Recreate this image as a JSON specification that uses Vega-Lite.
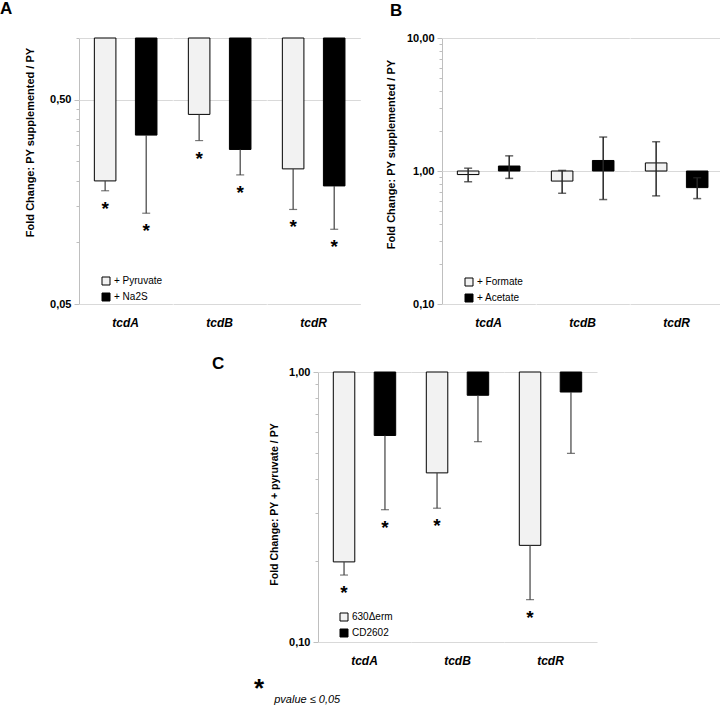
{
  "$schema": "https://vega.github.io/schema/vega-lite/v6.json",
  "padding": {"left": 0, "top": 0, "right": 0, "bottom": 0},
  "background": "white",
  "config": {
    "font": "Liberation Sans",
    "view": {"stroke": null},
    "axis": {"labelColor": "black", "titleColor": "black", "labelFontWeight": "bold", "labelFontSize": 11, "titleFontWeight": "bold", "titleFontSize": 11, "labelOverlap": false},
    "header": {"labelFont": "Liberation Sans", "labelFontSize": 12, "labelFontWeight": "bold", "labelFontStyle": "italic", "labelColor": "black", "labelOrient": "bottom", "labelPadding": 14},
    "legend": {"orient": "none", "title": null, "symbolType": "square", "symbolSize": 64, "symbolStrokeColor": "black", "symbolStrokeWidth": 1, "labelFontSize": 10, "labelOffset": 3, "rowPadding": 4, "padding": 0, "labelColor": "black"}
  },
  "title": {"text": "*", "subtitle": "\u2800\u00a0\u00a0\u00a0\u00a0pvalue ≤ 0,05", "orient": "bottom", "anchor": "start", "frame": "bounds", "dx": 254, "offset": 9, "fontSize": 26, "fontWeight": "bold", "subtitleFontSize": 11, "subtitleFontStyle": "italic", "subtitleColor": "black", "subtitlePadding": -8, "color": "black"},
  "resolve": {"scale": {"fill": "independent"}, "legend": {"fill": "independent"}},
  "spacing": 26,
  "vconcat": [
    {
      "hconcat": [
        {
          "title": {"text": "A", "anchor": "start", "frame": "group", "dx": -79, "offset": 1, "fontSize": 17, "fontWeight": "bold", "baseline": "alphabetic", "color": "black"},
          "data": {"values": [
            {"gene": "tcdA", "cond": "+ Pyruvate", "value": 0.200, "lo": 0.179, "sig": "*"},
            {"gene": "tcdA", "cond": "+ Na2S", "value": 0.335, "lo": 0.139, "sig": "*"},
            {"gene": "tcdB", "cond": "+ Pyruvate", "value": 0.423, "lo": 0.315, "sig": "*"},
            {"gene": "tcdB", "cond": "+ Na2S", "value": 0.285, "lo": 0.214, "sig": "*"},
            {"gene": "tcdR", "cond": "+ Pyruvate", "value": 0.229, "lo": 0.145, "sig": "*"},
            {"gene": "tcdR", "cond": "+ Na2S", "value": 0.189, "lo": 0.116, "sig": "*"}
          ]},
          "spacing": 0,
          "facet": {"column": {"field": "gene", "type": "nominal", "sort": ["tcdA", "tcdB", "tcdR"], "title": null}},
          "spec": {
            "width": 93.33, "height": 266,
            "encoding": {
              "x": {"field": "cond", "type": "nominal", "sort": ["+ Pyruvate", "+ Na2S"], "scale": {"type": "band", "paddingInner": 0.475, "paddingOuter": 0.374},
                "axis": {"title": null, "labels": false, "ticks": false, "domainColor": "#d9d9d9"}}
            },
            "layer": [
              {
                "mark": {"type": "bar", "stroke": "black", "strokeWidth": 1},
                "encoding": {
                  "y": {"field": "value", "type": "quantitative", "scale": {"type": "log", "domain": [0.05, 1], "nice": false},
                    "axis": {"title": "Fold Change: PY supplemented / PY", "titleX": -44, "titleY": 104,
                      "values": [0.05, 0.1, 0.15, 0.2, 0.25, 0.3, 0.35, 0.4, 0.45, 0.5, 1],
                      "labelExpr": "datum.value == 0.05 || datum.value == 0.5 ? replace(format(datum.value, '.2f'), '.', ',') : ''",
                      "grid": true, "gridColor": "#d9d9d9",
                      "gridOpacity": {"condition": {"test": "datum.value == 0.5 || datum.value == 1", "value": 1}, "value": 0},
                      "tickSize": {"condition": {"test": "datum.value == 0.05 || datum.value == 0.5", "value": 5}, "value": 3},
                      "domainColor": "#bfbfbf", "tickColor": "#bfbfbf", "labelPadding": 3}},
                  "y2": {"datum": 1},
                  "fill": {"field": "cond", "type": "nominal", "scale": {"domain": ["+ Pyruvate", "+ Na2S"], "range": ["#f2f2f2", "#000000"]},
                    "legend": {"legendX": 22, "legendY": 238}}
                }
              },
              {
                "mark": {"type": "rule", "color": "#404040", "strokeWidth": 1.2},
                "encoding": {"y": {"field": "value", "type": "quantitative"}, "y2": {"field": "lo"}}
              },
              {
                "mark": {"type": "tick", "color": "#404040", "size": 8, "thickness": 1.2},
                "encoding": {"y": {"field": "lo", "type": "quantitative"}}
              },
              {
                "mark": {"type": "text", "fontSize": 19, "fontWeight": "bold", "baseline": "alphabetic", "dy": 24, "color": "black"},
                "encoding": {"y": {"field": "lo", "type": "quantitative"}, "text": {"field": "sig"}}
              }
            ]
          }
        },
        {
          "title": {"text": "B", "anchor": "start", "frame": "group", "dx": -52, "offset": -1, "fontSize": 17, "fontWeight": "bold", "baseline": "alphabetic", "color": "black"},
          "data": {"values": [
            {"gene": "tcdA", "cond": "+ Formate", "value": 0.94, "lo": 0.83, "hi": 1.05},
            {"gene": "tcdA", "cond": "+ Acetate", "value": 1.09, "lo": 0.88, "hi": 1.30},
            {"gene": "tcdB", "cond": "+ Formate", "value": 0.84, "lo": 0.68, "hi": 1.01},
            {"gene": "tcdB", "cond": "+ Acetate", "value": 1.20, "lo": 0.61, "hi": 1.80},
            {"gene": "tcdR", "cond": "+ Formate", "value": 1.15, "lo": 0.65, "hi": 1.66},
            {"gene": "tcdR", "cond": "+ Acetate", "value": 0.75, "lo": 0.62, "hi": 0.89}
          ]},
          "spacing": 0,
          "facet": {"column": {"field": "gene", "type": "nominal", "sort": ["tcdA", "tcdB", "tcdR"], "title": null}},
          "spec": {
            "width": 93.33, "height": 266,
            "encoding": {
              "x": {"field": "cond", "type": "nominal", "sort": ["+ Formate", "+ Acetate"], "scale": {"type": "band", "paddingInner": 0.475, "paddingOuter": 0.374},
                "axis": {"title": null, "labels": false, "ticks": false, "domainColor": "#d9d9d9"}}
            },
            "layer": [
              {
                "mark": {"type": "bar", "stroke": "black", "strokeWidth": 1},
                "encoding": {
                  "y": {"field": "value", "type": "quantitative", "scale": {"type": "log", "domain": [0.1, 10], "nice": false},
                    "axis": {"title": "Fold Change: PY supplemented / PY", "titleX": -46, "titleY": 116,
                      "values": [0.1, 0.2, 0.3, 0.4, 0.5, 0.6, 0.7, 0.8, 0.9, 1, 2, 3, 4, 5, 6, 7, 8, 9, 10],
                      "labelExpr": "datum.value == 0.1 || datum.value == 1 || datum.value == 10 ? replace(format(datum.value, '.2f'), '.', ',') : ''",
                      "grid": true, "gridColor": "#d9d9d9",
                      "gridOpacity": {"condition": {"test": "datum.value == 1 || datum.value == 10", "value": 1}, "value": 0},
                      "tickSize": {"condition": {"test": "datum.value == 0.1 || datum.value == 1 || datum.value == 10", "value": 5}, "value": 3},
                      "domainColor": "#bfbfbf", "tickColor": "#bfbfbf", "labelPadding": 3}},
                  "y2": {"datum": 1},
                  "fill": {"field": "cond", "type": "nominal", "scale": {"domain": ["+ Formate", "+ Acetate"], "range": ["#f2f2f2", "#000000"]},
                    "legend": {"legendX": 22, "legendY": 239}}
                }
              },
              {
                "mark": {"type": "rule", "color": "#262626", "strokeWidth": 1.5},
                "encoding": {"y": {"field": "lo", "type": "quantitative"}, "y2": {"field": "hi"}}
              },
              {
                "mark": {"type": "tick", "color": "#262626", "size": 8, "thickness": 1.5},
                "encoding": {"y": {"field": "lo", "type": "quantitative"}}
              },
              {
                "mark": {"type": "tick", "color": "#262626", "size": 8, "thickness": 1.5},
                "encoding": {"y": {"field": "hi", "type": "quantitative"}}
              }
            ]
          }
        }
      ],
      "spacing": 23,
      "resolve": {"scale": {"fill": "independent"}, "legend": {"fill": "independent"}}
    },
    {
      "hconcat": [
        {"width": 133, "height": 1, "data": {"values": []}, "mark": "point"},
        {
          "title": {"text": "C", "anchor": "start", "frame": "group", "dx": -106, "offset": -20, "fontSize": 17, "fontWeight": "bold", "baseline": "alphabetic", "color": "black"},
          "data": {"values": [
            {"gene": "tcdA", "cond": "630Δerm", "value": 0.198, "lo": 0.177, "sig": "*"},
            {"gene": "tcdA", "cond": "CD2602", "value": 0.582, "lo": 0.309, "sig": "*"},
            {"gene": "tcdB", "cond": "630Δerm", "value": 0.423, "lo": 0.313, "sig": "*"},
            {"gene": "tcdB", "cond": "CD2602", "value": 0.82, "lo": 0.552, "sig": ""},
            {"gene": "tcdR", "cond": "630Δerm", "value": 0.228, "lo": 0.1435, "sig": "*"},
            {"gene": "tcdR", "cond": "CD2602", "value": 0.843, "lo": 0.50, "sig": ""}
          ]},
          "spacing": 0,
          "facet": {"column": {"field": "gene", "type": "nominal", "sort": ["tcdA", "tcdB", "tcdR"], "title": null}},
          "spec": {
            "width": 93, "height": 270,
            "encoding": {
              "x": {"field": "cond", "type": "nominal", "sort": ["630Δerm", "CD2602"], "scale": {"type": "band", "paddingInner": 0.475, "paddingOuter": 0.374},
                "axis": {"title": null, "labels": false, "ticks": false, "domainColor": "#d9d9d9"}}
            },
            "layer": [
              {
                "mark": {"type": "bar", "stroke": "black", "strokeWidth": 1},
                "encoding": {
                  "y": {"field": "value", "type": "quantitative", "scale": {"type": "log", "domain": [0.1, 1], "nice": false},
                    "axis": {"title": "Fold Change: PY + pyruvate / PY", "titleFontSize": 10.5, "titleX": -39, "titleY": 132,
                      "values": [0.1, 0.2, 0.3, 0.4, 0.5, 0.6, 0.7, 0.8, 0.9, 1],
                      "labelExpr": "datum.value == 0.1 || datum.value == 1 ? replace(format(datum.value, '.2f'), '.', ',') : ''",
                      "grid": true, "gridColor": "#d9d9d9",
                      "gridOpacity": {"condition": {"test": "datum.value == 1", "value": 1}, "value": 0},
                      "tickSize": {"condition": {"test": "datum.value == 0.1 || datum.value == 1", "value": 5}, "value": 3},
                      "domainColor": "#bfbfbf", "tickColor": "#bfbfbf", "labelPadding": 3}},
                  "y2": {"datum": 1},
                  "fill": {"field": "cond", "type": "nominal", "scale": {"domain": ["630Δerm", "CD2602"], "range": ["#f2f2f2", "#000000"]},
                    "legend": {"legendX": 21, "legendY": 240}}
                }
              },
              {
                "mark": {"type": "rule", "color": "#404040", "strokeWidth": 1.2},
                "encoding": {"y": {"field": "value", "type": "quantitative"}, "y2": {"field": "lo"}}
              },
              {
                "mark": {"type": "tick", "color": "#404040", "size": 8, "thickness": 1.2},
                "encoding": {"y": {"field": "lo", "type": "quantitative"}}
              },
              {
                "mark": {"type": "text", "fontSize": 19, "fontWeight": "bold", "baseline": "alphabetic", "dy": 24, "color": "black"},
                "encoding": {"y": {"field": "lo", "type": "quantitative"}, "text": {"field": "sig"}}
              }
            ]
          }
        }
      ],
      "spacing": 0,
      "resolve": {"scale": {"fill": "independent"}, "legend": {"fill": "independent"}}
    }
  ]
}
